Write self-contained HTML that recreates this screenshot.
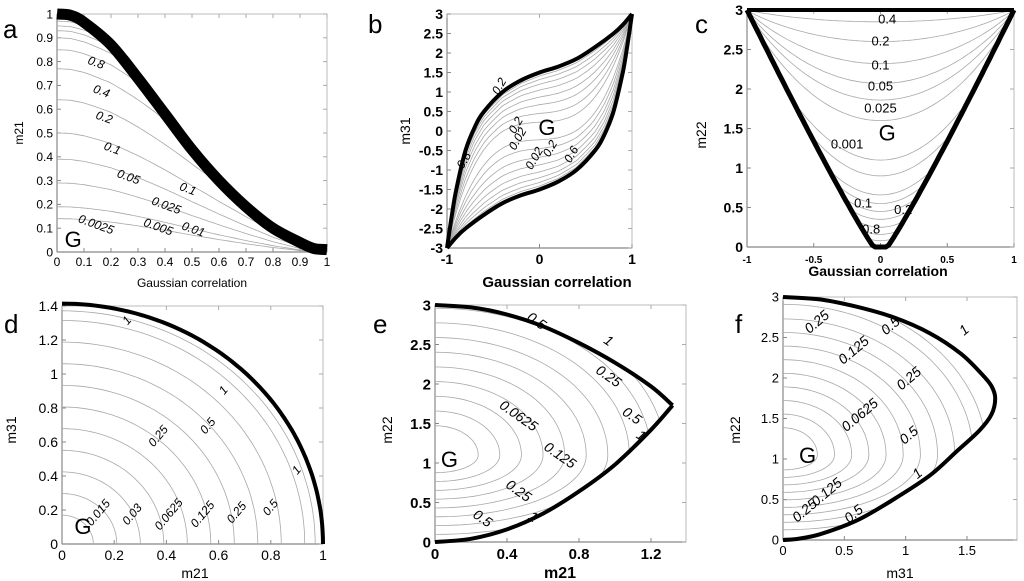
<!DOCTYPE html>
<html><head><meta charset="utf-8"><style>
html,body{margin:0;padding:0;background:#fff}
svg{display:block;font-family:"Liberation Sans",Arial,sans-serif}
</style></head><body>
<svg id="fig" width="1024" height="581" viewBox="0 0 1024 581" xmlns="http://www.w3.org/2000/svg"></svg>
<script>
// ---------- data ----------
// panel a
const aBoundX=[0,0.05,0.1,0.2,0.3,0.4,0.5,0.6,0.7,0.8,0.9,0.95,1];
const aBoundY=[1,0.995,0.965,0.87,0.73,0.58,0.43,0.3,0.19,0.1,0.04,0.015,0.01];
const aStartY=[0.14,0.19,0.29,0.39,0.5,0.64,0.77,0.85,0.9,0.93,0.95,0.97];
const aLabels=[["0.0025",0.14,0.1],["0.005",0.37,0.09],["0.01",0.5,0.08],["0.025",0.4,0.18],["0.05",0.26,0.3],["0.1",0.48,0.25],["0.1",0.2,0.42],["0.2",0.17,0.55],["0.4",0.16,0.66],["0.8",0.14,0.78]];
// panel b
const bUpperX=[-1,-0.95,-0.9,-0.8,-0.7,-0.6,-0.4,-0.2,0,0.2,0.4,0.6,0.8,0.9,1];
const bUpperY=[-3,-2.2,-1.5,-0.5,0.1,0.5,1.0,1.3,1.5,1.65,1.85,2.15,2.5,2.72,3];
const bLevels=[0.15,0.3,0.45,0.58,0.7,0.8,0.88,0.94];
const bLabels=[["0.2",-0.22,0.1],["0.02",-0.2,-0.25],["0.02",-0.02,-0.75],["0.2",0.15,-0.5],["0.6",0.38,-0.65],["0.2",-0.4,1.1],["0.8",-0.78,-0.8],["G",0.08,-0.1]];
// panel c
const cMidY=[2.85,2.6,2.32,2.07,1.86,1.6,1.1,0.9,0.66,0.55,0.45,0.35,0.25,0.16,0.08];
const cLabels=[["0.4",0.05,2.83],["0.2",0.0,2.55],["0.1",0.0,2.25],["0.05",0.0,1.98],["0.025",0.0,1.7],["0.001",-0.25,1.25],["0.1",-0.13,0.5],["0.2",0.17,0.42],["0.8",-0.07,0.17]];
// panel d
const dRadii=[0.12,0.21,0.3,0.39,0.48,0.57,0.66,0.75,0.84,0.93,0.97];
const dLabels=[["0.015",0.15,0.17],["0.03",0.28,0.16],["0.0625",0.42,0.16],["0.125",0.55,0.16],["0.25",0.68,0.17],["0.5",0.81,0.2],["1",0.91,0.42],["0.25",0.38,0.62],["0.5",0.57,0.68],["1",0.63,0.89],["1",0.26,1.3]];
// panel e
const eRadii=[0.24,0.36,0.48,0.6,0.72,0.84,0.96,1.08,1.2,1.28];
const eBoundUpX=[0,0.2,0.4,0.6,0.8,1.0,1.2,1.32];
const eBoundUpY=[3,2.97,2.88,2.73,2.52,2.27,1.97,1.73];
const eBoundLoX=[0,0.2,0.4,0.6,0.8,1.0,1.2,1.32];
const eBoundLoY=[0,0.04,0.16,0.36,0.64,0.98,1.42,1.73];
const eLabels=[["0.5",0.55,2.75],["1",0.95,2.5],["0.25",0.95,2.05],["0.0625",0.45,1.55],["0.5",1.08,1.55],["1",1.13,1.3],["0.125",0.68,1.05],["0.25",0.45,0.6],["0.5",0.25,0.25],["1",0.53,0.27]];
// panel f
const fRadii=[0.28,0.42,0.56,0.7,0.84,0.98,1.12,1.26,1.4,1.55,1.66];
const fBoundX=[0,0.3,0.6,0.9,1.2,1.45,1.62,1.7,1.73,1.7,1.6,1.42,1.2,0.9,0.6,0.3,0.1,0];
const fBoundY=[3,2.97,2.88,2.75,2.55,2.3,2.05,1.9,1.75,1.55,1.35,1.1,0.8,0.5,0.24,0.07,0.01,0];
const fLabels=[["0.25",0.3,2.65],["0.5",0.9,2.6],["1",1.5,2.55],["0.125",0.6,2.3],["0.25",1.05,1.95],["0.0625",0.65,1.5],["0.5",1.05,1.25],["1",1.12,0.78],["0.125",0.38,0.55],["0.25",0.2,0.32],["0.5",0.6,0.28]];

// ---------- helpers ----------
const NS="http://www.w3.org/2000/svg";
const svg=document.getElementById('fig');
function mk(tag,attrs,parent){const e=document.createElementNS(NS,tag);for(const k in attrs)e.setAttribute(k,attrs[k]);(parent||svg).appendChild(e);return e;}
function interp(xs,ys,x){if(x<=xs[0])return ys[0];for(let i=1;i<xs.length;i++){if(x<=xs[i]){const t=(x-xs[i-1])/(xs[i]-xs[i-1]);return ys[i-1]+t*(ys[i]-ys[i-1]);}}return ys[ys.length-1];}
function pathD(pts){return pts.map((p,i)=>(i?'L':'M')+p[0].toFixed(1)+','+p[1].toFixed(1)).join('');}
function smoothD(pts){let d='M'+pts[0][0].toFixed(1)+','+pts[0][1].toFixed(1);
  for(let i=0;i<pts.length-1;i++){const p0=pts[Math.max(i-1,0)],p1=pts[i],p2=pts[i+1],p3=pts[Math.min(i+2,pts.length-1)];
    const c1=[p1[0]+(p2[0]-p0[0])/6,p1[1]+(p2[1]-p0[1])/6],c2=[p2[0]-(p3[0]-p1[0])/6,p2[1]-(p3[1]-p1[1])/6];
    d+='C'+c1.map(v=>v.toFixed(1)).join(',')+' '+c2.map(v=>v.toFixed(1)).join(',')+' '+p2.map(v=>v.toFixed(1)).join(',');}
  return d;}

function panel(o){
  const g=mk('g',{});
  
  
  const X=v=>o.x0+(v-o.xmin)/(o.xmax-o.xmin)*(o.x1-o.x0);
  const Y=v=>o.y0+(v-o.ymin)/(o.ymax-o.ymin)*(o.y1-o.y0);
  const fr=mk('rect',{x:o.x0,y:o.y1,width:o.right-o.x0,height:o.y0-o.y1,fill:'none',stroke:'#bbb','stroke-width':1},g);
  
  
  mk('line',{x1:o.x0,y1:o.y0,x2:o.right,y2:o.y0,stroke:'#888','stroke-width':1.2},g);
  mk('line',{x1:o.x0,y1:o.y0,x2:o.x0,y2:o.y1,stroke:'#888','stroke-width':1.2},g);
  const tg=mk('g',{},g);
  
  
  o.xt.forEach(v=>{const px=X(v);
    mk('line',{x1:px,y1:o.y0,x2:px,y2:o.y0-4,stroke:'#888'},tg);
    mk('line',{x1:px,y1:o.y1,x2:px,y2:o.y1+4,stroke:'#aaa'},tg);
    const t=mk('text',{x:px,y:o.y0+o.fs+2,'font-size':o.fxs||o.fs,'text-anchor':'middle','font-weight':o.fw||'normal'},tg);t.textContent=o.fmtx?o.fmtx(v):String(v);
    
    });
  const yg=mk('g',{},g);
  
  
  o.yt.forEach(v=>{const py=Y(v);
    mk('line',{x1:o.x0,y1:py,x2:o.x0+4,y2:py,stroke:'#888'},yg);
    mk('line',{x1:o.right,y1:py,x2:o.right-4,y2:py,stroke:'#aaa'},yg);
    const t=mk('text',{x:o.x0-4,y:py+o.fs*0.36,'font-size':o.fs,'text-anchor':'end','font-weight':o.fw||'normal'},yg);t.textContent=String(v);
    
    });
  const xl=mk('text',{x:o.xlx,y:o.xly,'font-size':o.xlfs,'text-anchor':'middle','font-weight':o.fw||'normal'},g);xl.textContent=o.xlabel;
  
  
  const yl=mk('text',{x:o.ylx,y:o.yly,'font-size':o.ylfs,'text-anchor':'middle',transform:`rotate(-90 ${o.ylx} ${o.yly})`},g);yl.textContent=o.ylabel;
  
  
  const pl=mk('text',{x:o.lx,y:o.ly,'font-size':26},g);pl.textContent=o.letter;
  
  
  return {g,X,Y};
}
function contour(p,pts,name,w,col,smooth){const sp=pts.map(q=>[p.X(q[0]),p.Y(q[1])]);
  const e=mk('path',{d:smooth?smoothD(sp):pathD(sp),fill:'none',stroke:col||'#a8a8a8','stroke-width':w||0.8,'stroke-linejoin':'round'},p.target||p.g);
  
  return e;}
function labels(p,arr,fs,rot,upright){arr.forEach(l=>{const x=p.X(l[1]),y=p.Y(l[2]);
  const big=l[0]==='G';
  const t=mk('text',{x:x,y:y,'font-size':big?22:fs,'text-anchor':'middle','font-style':(big||upright)?'normal':'italic',transform:big?'':`rotate(${rot||0} ${x} ${y})`},p.g);
  t.textContent=l[0];
  
  });}
function gLabel(p,x,y){const t=mk('text',{x:p.X(x),y:p.Y(y),'font-size':22,'text-anchor':'middle'},p.g);t.textContent='G';
  
  }
function clip(p,id,pts){const cp=mk('clipPath',{id:id},p.g);mk('path',{d:smoothD(pts.map(q=>[p.X(q[0]),p.Y(q[1])]))+'Z'},cp);
  const cg=mk('g',{'clip-path':`url(#${id})`},p.g);return cg;}

// ---------- panel a ----------
{const p=panel({name:'panel-a',x0:57,x1:327,right:327,y0:252,y1:14,xmin:0,xmax:1,ymin:0,ymax:1,
  xt:[0,0.1,0.2,0.3,0.4,0.5,0.6,0.7,0.8,0.9,1],yt:[0,0.1,0.2,0.3,0.4,0.5,0.6,0.7,0.8,0.9,1],fs:12,
  xlabel:'Gaussian correlation',xlx:192,xly:287,xlfs:12,ylabel:'m21',ylx:23,yly:133,ylfs:12,letter:'a',lx:3,ly:38});
 const xs=[];for(let i=0;i<=100;i++)xs.push(i/100);
 aStartY.forEach((y0,k)=>{const pts=xs.map(x=>{const b=interp(aBoundX,aBoundY,x);return [x,Math.min(b,y0*Math.pow(Math.max(b,0)/1,0.35+0.3*(1-y0))*Math.cos(Math.min(x/0.93,1)*Math.PI/2)**0.4)];});
   contour(p,pts,'contour-line-'+k);});
 contour(p,aBoundX.map((x,i)=>[x,aBoundY[i]]),'boundary-curve',11,'#000',true);
 labels(p,aLabels,12,20);gLabel(p,0.06,0.02);}

// ---------- panel b ----------
{const p=panel({name:'panel-b',x0:447,x1:632,right:632,y0:248,y1:14,xmin:-1,xmax:1,ymin:-3,ymax:3,
  xt:[-1,0,1],yt:[-3,-2.5,-2,-1.5,-1,-0.5,0,0.5,1,1.5,2,2.5,3],fs:14,fw:'bold',
  xlabel:'Gaussian correlation',xlx:557,xly:287,xlfs:15,ylabel:'m31',ylx:410,yly:131,ylfs:14,letter:'b',lx:368,ly:33});
 const xs=[];for(let i=0;i<=80;i++)xs.push(-1+i/40);
 const up=x=>interp(bUpperX,bUpperY,x), lo=x=>-up(-x), mid=x=>3*x*x*x;
 bLevels.forEach((t,k)=>{contour(p,xs.map(x=>[x,mid(x)+t*(up(x)-mid(x))]),'contour-upper-'+k);
   contour(p,xs.map(x=>[x,mid(x)+t*(lo(x)-mid(x))]),'contour-lower-'+k);});
 contour(p,bUpperX.map((x,i)=>[x,bUpperY[i]]),'boundary-upper',4,'#000',true);
 contour(p,bUpperX.map((x,i)=>[-x,-bUpperY[i]]),'boundary-lower',4,'#000',true);
 labels(p,bLabels,12,-60);}

// ---------- panel c ----------
{const p=panel({name:'panel-c',x0:747,x1:1014,right:1014,y0:247,y1:10,xmin:-1,xmax:1,ymin:0,ymax:3,
  xt:[-1,-0.5,0,0.5,1],yt:[0,0.5,1,1.5,2,2.5,3],fs:14,fxs:10,fw:'bold',
  xlabel:'Gaussian correlation',xlx:878,xly:276,xlfs:14,ylabel:'m22',ylx:706,yly:135,ylfs:14,letter:'c',lx:695,ly:33});
 const bound=x=>{const a=Math.abs(x);return a<0.05?0:3*Math.pow((a-0.05)/0.95,1.08);};
 const xs=[];for(let i=0;i<=100;i++)xs.push(-1+i/50);
 cMidY.forEach((m,k)=>{contour(p,xs.map(x=>[x,Math.max(bound(x),3-(3-m)*Math.pow(1-x*x,0.9))]),'contour-line-'+k);});
 contour(p,xs.map(x=>[x,bound(x)]),'boundary-v',5,'#000');
 contour(p,[[-1,3],[1,3]],'boundary-top',4,'#000');
 labels(p,cLabels,13,0,true);gLabel(p,0.05,1.35);}

// ---------- panel d ----------
{const p=panel({name:'panel-d',x0:62,x1:323,right:323,y0:544,y1:306,xmin:0,xmax:1,ymin:0,ymax:1.4,
  xt:[0,0.2,0.4,0.6,0.8,1],yt:[0,0.2,0.4,0.6,0.8,1,1.2,1.4],fs:14,
  xlabel:'m21',xlx:195,xly:578,xlfs:14,ylabel:'m31',ylx:16,yly:430,ylfs:14,letter:'d',lx:4,ly:333});
 const th=[];for(let i=0;i<=60;i++)th.push(i/60*Math.PI/2);
 dRadii.forEach((r,k)=>contour(p,th.map(t=>[r*Math.cos(t),1.414*r*Math.sin(t)]),'contour-line-'+k));
 contour(p,th.map(t=>[Math.cos(t),1.414*Math.sin(t)]),'boundary-curve',4,'#000');
 labels(p,dLabels,12,-50);gLabel(p,0.08,0.06);}

// ---------- panel e ----------
{const p=panel({name:'panel-e',x0:435,x1:651,right:686,y0:542,y1:305,xmin:0,xmax:1.2,ymin:0,ymax:3,
  xt:[0,0.4,0.8,1.2],yt:[0,0.5,1,1.5,2,2.5,3],fs:15,fw:'bold',
  xlabel:'m21',xlx:560,xly:578,xlfs:16,ylabel:'m22',ylx:392,yly:430,ylfs:14,letter:'e',lx:373,ly:333});
 const region=eBoundUpX.map((x,i)=>[x,eBoundUpY[i]]).concat(eBoundLoX.slice().reverse().map((x,i)=>[x,eBoundLoY[eBoundLoY.length-1-i]]));
 p.target=clip(p,'clipE',region);
 const th=[];for(let i=0;i<=60;i++)th.push(-Math.PI/2+i/60*Math.PI);
 eRadii.forEach((r,k)=>contour(p,th.map(t=>[r*Math.cos(t),1.1+(t>0?1.55:0.93)*r*Math.sin(t)]),'contour-line-'+k));
 p.target=null;
 contour(p,eBoundUpX.map((x,i)=>[x,eBoundUpY[i]]),'boundary-upper',4,'#000',true);
 contour(p,eBoundLoX.map((x,i)=>[x,eBoundLoY[i]]),'boundary-lower',4,'#000',true);
 labels(p,eLabels,14,35);gLabel(p,0.08,0.95);}

// ---------- panel f ----------
{const p=panel({name:'panel-f',x0:783,x1:967,right:1017,y0:540,y1:297,xmin:0,xmax:1.5,ymin:0,ymax:3,
  xt:[0,0.5,1,1.5],yt:[0,0.5,1,1.5,2,2.5,3],fs:13,
  xlabel:'m31',xlx:900,xly:578,xlfs:14,ylabel:'m22',ylx:740,yly:430,ylfs:14,letter:'f',lx:735,ly:333});
 p.target=clip(p,'clipF',fBoundX.map((x,i)=>[x,fBoundY[i]]));
 const th=[];for(let i=0;i<=60;i++)th.push(-Math.PI/2+i/60*Math.PI);
 fRadii.forEach((r,k)=>contour(p,th.map(t=>[r*Math.cos(t),1.05+(t>0?1.2:0.66)*r*Math.sin(t)]),'contour-line-'+k));
 p.target=null;
 contour(p,fBoundX.map((x,i)=>[x,fBoundY[i]]),'boundary-curve',4,'#000',true);
 labels(p,fLabels,14,-40);gLabel(p,0.2,0.95);}
</script>
</body></html>
